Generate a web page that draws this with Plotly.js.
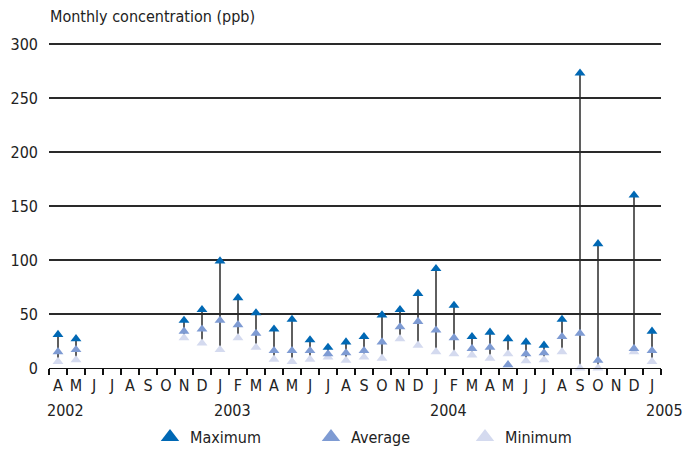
<!DOCTYPE html>
<html>
<head>
<meta charset="utf-8">
<script src="https://cdn.plot.ly/plotly-3.0.1.min.js"></script>
<style>html,body{margin:0;padding:0;background:#fff;}#chart{width:696px;height:451px;}</style>
</head>
<body>
<div id="chart"></div>
<script>
// Month categories (Apr 2002 – Jan 2005)
var months = ['Apr 2002','May 2002','Jun 2002','Jul 2002','Aug 2002','Sep 2002','Oct 2002','Nov 2002','Dec 2002',
  'Jan 2003','Feb 2003','Mar 2003','Apr 2003','May 2003','Jun 2003','Jul 2003','Aug 2003','Sep 2003','Oct 2003','Nov 2003','Dec 2003',
  'Jan 2004','Feb 2004','Mar 2004','Apr 2004','May 2004','Jun 2004','Jul 2004','Aug 2004','Sep 2004','Oct 2004','Nov 2004','Dec 2004',
  'Jan 2005'];
var monthLetters = ['A','M','J','J','A','S','O','N','D',
  'J','F','M','A','M','J','J','A','S','O','N','D',
  'J','F','M','A','M','J','J','A','S','O','N','D',
  'J'];
var maximum = [31,27,null,null,null,null,null,44,54,
  99,65,51,36,45,26,19,24,29,49,54,69,
  92,58,29,33,27,24,21,45,273,115,null,160,
  34];
var average = [15,17,null,null,null,null,null,34,36,
  44,40,32,16,16,16,13,14,16,24,38,43,
  35,28,18,19,3,13,14,29,32,7,null,18,
  16];
var minimum = [6,7.5,null,null,null,null,null,28,23,
  17,28,19,8,6,8,10,7,10,9,27,21,
  15,13,12,9,13,6.5,7.5,15,0,0,null,15,
  6];
var years = ['2002','2003','2004','2005'];
var yearAnchor = ['Apr 2002','Jan 2003','Jan 2004','Jan 2005'];
var seriesNames = ['Maximum','Average','Minimum'];

var cMax = '#0068b4', cAvg = '#7e9bd3', cMin = '#d4daef';
var FONT = '"DejaVu Sans Condensed", "Liberation Sans Narrow", sans-serif';
var txtColor = '#222';

var spans = maximum.map(function(v, i){ return (v === null || minimum[i] === null) ? null : v - minimum[i]; });
var zeros = maximum.map(function(){ return 0; });

var traces = [
  { // vertical min-max line
    type: 'scatter', mode: 'markers', x: months, y: minimum,
    marker: {size: 1, color: 'rgba(0,0,0,0)'},
    error_y: {type: 'data', symmetric: false, array: spans, arrayminus: zeros, width: 0, color: '#2a2a2a', thickness: 1.5},
    showlegend: false, hoverinfo: 'skip', cliponaxis: false
  },
  {type: 'scatter', mode: 'markers', x: months, y: minimum, name: 'Minimum', showlegend: false,
   marker: {symbol: 'triangle-up', size: 9.5, color: cMin}, cliponaxis: false},
  {type: 'scatter', mode: 'markers', x: months, y: average, name: 'Average', showlegend: false,
   marker: {symbol: 'triangle-up', size: 9.5, color: cAvg}, cliponaxis: false},
  {type: 'scatter', mode: 'markers', x: months, y: maximum, name: 'Maximum', showlegend: false,
   marker: {symbol: 'triangle-up', size: 9.5, color: cMax}, cliponaxis: false},
  // legend entries
  {type: 'scatter', mode: 'markers', x: [null], y: [null], name: seriesNames[0], legend: 'legend',
   marker: {symbol: 'triangle-up', size: 16, color: cMax}},
  {type: 'scatter', mode: 'markers', x: [null], y: [null], name: seriesNames[1], legend: 'legend2',
   marker: {symbol: 'triangle-up', size: 16, color: cAvg}},
  {type: 'scatter', mode: 'markers', x: [null], y: [null], name: seriesNames[2], legend: 'legend3',
   marker: {symbol: 'triangle-up', size: 16, color: cMin}}
];

var legendBase = {orientation: 'h', xref: 'container', yref: 'container', xanchor: 'left', yanchor: 'middle',
  font: {family: FONT, size: 16, color: txtColor}, bgcolor: 'rgba(0,0,0,0)', borderwidth: 0, itemsizing: 'trace'};
function mkLegend(xpx){ var o = Object.assign({}, legendBase); o.x = xpx/696; o.y = 1 - 437/451; return o; }

var annotations = years.map(function(y, i){
  var idx = months.indexOf(yearAnchor[i]);
  var off = (i === 0 ? 0.4 : 0.7);
  return {text: y, xref: 'paper', yref: 'paper', x: (idx + off + 0.5) / months.length, y: 0, yshift: -42,
    showarrow: false, xanchor: 'center', yanchor: 'middle', font: {family: FONT, size: 16, color: txtColor}};
});

var layout = {
  width: 696, height: 451,
  margin: {l: 49, r: 35, t: 43, b: 83},
  paper_bgcolor: '#fff', plot_bgcolor: '#fff',
  font: {family: FONT, size: 16, color: txtColor},
  title: {text: 'Monthly concentration (ppb)', x: 50/696, xanchor: 'left', y: 1 - 16/451, yanchor: 'middle',
    font: {family: FONT, size: 16, color: txtColor}},
  xaxis: {type: 'category', categoryorder: 'array', categoryarray: months,
    tickmode: 'array', tickvals: months, ticktext: monthLetters, tickson: 'boundaries', tickangle: 0,
    range: [-0.5, months.length - 0.5], showgrid: false, zeroline: false,
    showline: true, linecolor: '#111', linewidth: 1.4,
    ticks: 'outside', ticklen: 6, tickwidth: 1.4, tickcolor: '#111', ticklabelstandoff: 2,
    tickfont: {family: FONT, size: 16, color: txtColor}, fixedrange: true},
  yaxis: {range: [0, 301], tickmode: 'array', tickvals: [0,50,100,150,200,250,300],
    showgrid: true, gridcolor: '#2a2a2a', gridwidth: 1.4, zeroline: false, showline: false, ticks: '',
    ticklabelstandoff: 10,
    tickfont: {family: FONT, size: 16, color: txtColor}, fixedrange: true},
  legend: mkLegend(150),
  legend2: mkLegend(311),
  legend3: mkLegend(465),
  annotations: annotations,
  showlegend: true
};

Plotly.newPlot('chart', traces, layout, {displayModeBar: false, staticPlot: true});
</script>
</body>
</html>
